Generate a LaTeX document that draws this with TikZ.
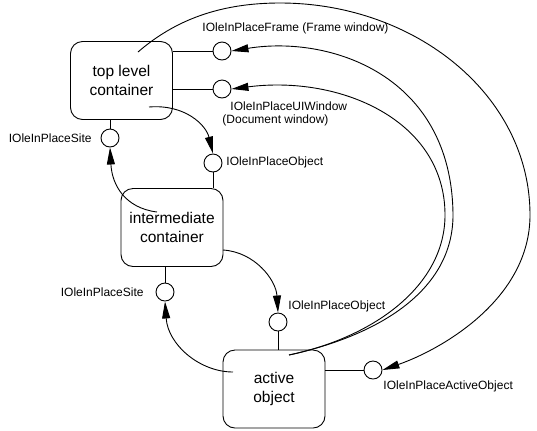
\documentclass[tikz,border=0pt]{standalone}
\usepackage{fontspec}
\setmainfont{Liberation Sans}
\usetikzlibrary{arrows.meta}
\begin{document}
\begin{tikzpicture}[x=1bp,y=-1bp,
  every path/.style={line width=0.9bp},
  boxnode/.style={draw, rounded corners=12bp, minimum width=102bp, minimum height=78bp, inner sep=0pt, align=center, font=\fontsize{15.5bp}{19bp}\selectfont},
  iface/.style={draw, circle, minimum size=18bp, inner sep=0pt},
  lbl/.style={inner sep=0pt, font=\fontsize{12bp}{14bp}\selectfont},
  conn/.style={-{Triangle[length=17bp,width=8bp]}}
]
\useasboundingbox (0,0) rectangle (537,430);
% boxes
\node[boxnode] (top) at (121.5,80.5) {top level\\container};
\node[boxnode] (mid) at (172,227.5) {intermediate\\container};
\node[boxnode] (act) at (274,389) {active\\object};
% interfaces
\node[iface] (fr) at (222,51) {};
\node[iface] (ui) at (222,89) {};
\node[iface] (site1) at (110,138) {};
\node[iface] (ob1) at (213,163) {};
\node[iface] (site2) at (165,292) {};
\node[iface] (ob2) at (278,322) {};
\node[iface] (ao) at (373,370) {};
% labels
\node[lbl, anchor=west] (lfr) at (202,28) {IOleInPlaceFrame (Frame window)};
\node[lbl, anchor=west] (lui1) at (230,106) {IOleInPlaceUIWindow};
\node[lbl, anchor=west] (lui2) at (222,120) {(Document window)};
\node[lbl, anchor=east] (lsite1) at (92,138) {IOleInPlaceSite};
\node[lbl, anchor=west] (lob1) at (226,162) {IOleInPlaceObject};
\node[lbl, anchor=east] (lsite2) at (144,292) {IOleInPlaceSite};
\node[lbl, anchor=west] (lob2) at (288,306) {IOleInPlaceObject};
\node[lbl, anchor=west] (lao) at (383,386) {IOleInPlaceActiveObject};
% stubs
\draw (top.east |- fr) -- (fr.west);
\draw (top.east |- ui) -- (ui.west);
\draw (top.south -| site1) -- (site1.north);
\draw (ob1.south) -- (ob1.south |- mid.north);
\draw (mid.south -| site2) -- (site2.north);
\draw (ob2.south) -- (ob2.south |- act.north);
\draw (act.east |- ao) -- (ao.west);
% curve start points
\coordinate (sout) at (138,52);
\coordinate (sact) at (289,355);
\coordinate (sa) at (149,107);
\coordinate (sb) at (157,212);
\coordinate (sc) at (223,250);
\coordinate (sd) at (233,372);
% long curves
\draw[conn] (sout) .. controls (175,20) and (220,3) .. (280,3)
  .. controls (415,3) and (530,95) .. (530,215)
  .. controls (530,300) and (440,350) .. (ao.east);
\draw[conn] (sact) .. controls (380,335) and (453,290) .. (453,215)
  .. controls (452,75) and (330,35) .. (fr.east);
\draw[conn] (sact) .. controls (375,337) and (445,285) .. (445,215)
  .. controls (445,120) and (340,75) .. (ui.east);
% short curves
\draw[conn] (sa) .. controls (185,104) and (206,125) .. (ob1.north);
\draw[conn] (sb) .. controls (125,208) and (112,185) .. (site1.south);
\draw[conn] (sc) .. controls (255,252) and (276,280) .. (ob2.north);
\draw[conn] (sd) .. controls (200,372) and (168,345) .. (site2.south);
\end{tikzpicture}
\end{document}
